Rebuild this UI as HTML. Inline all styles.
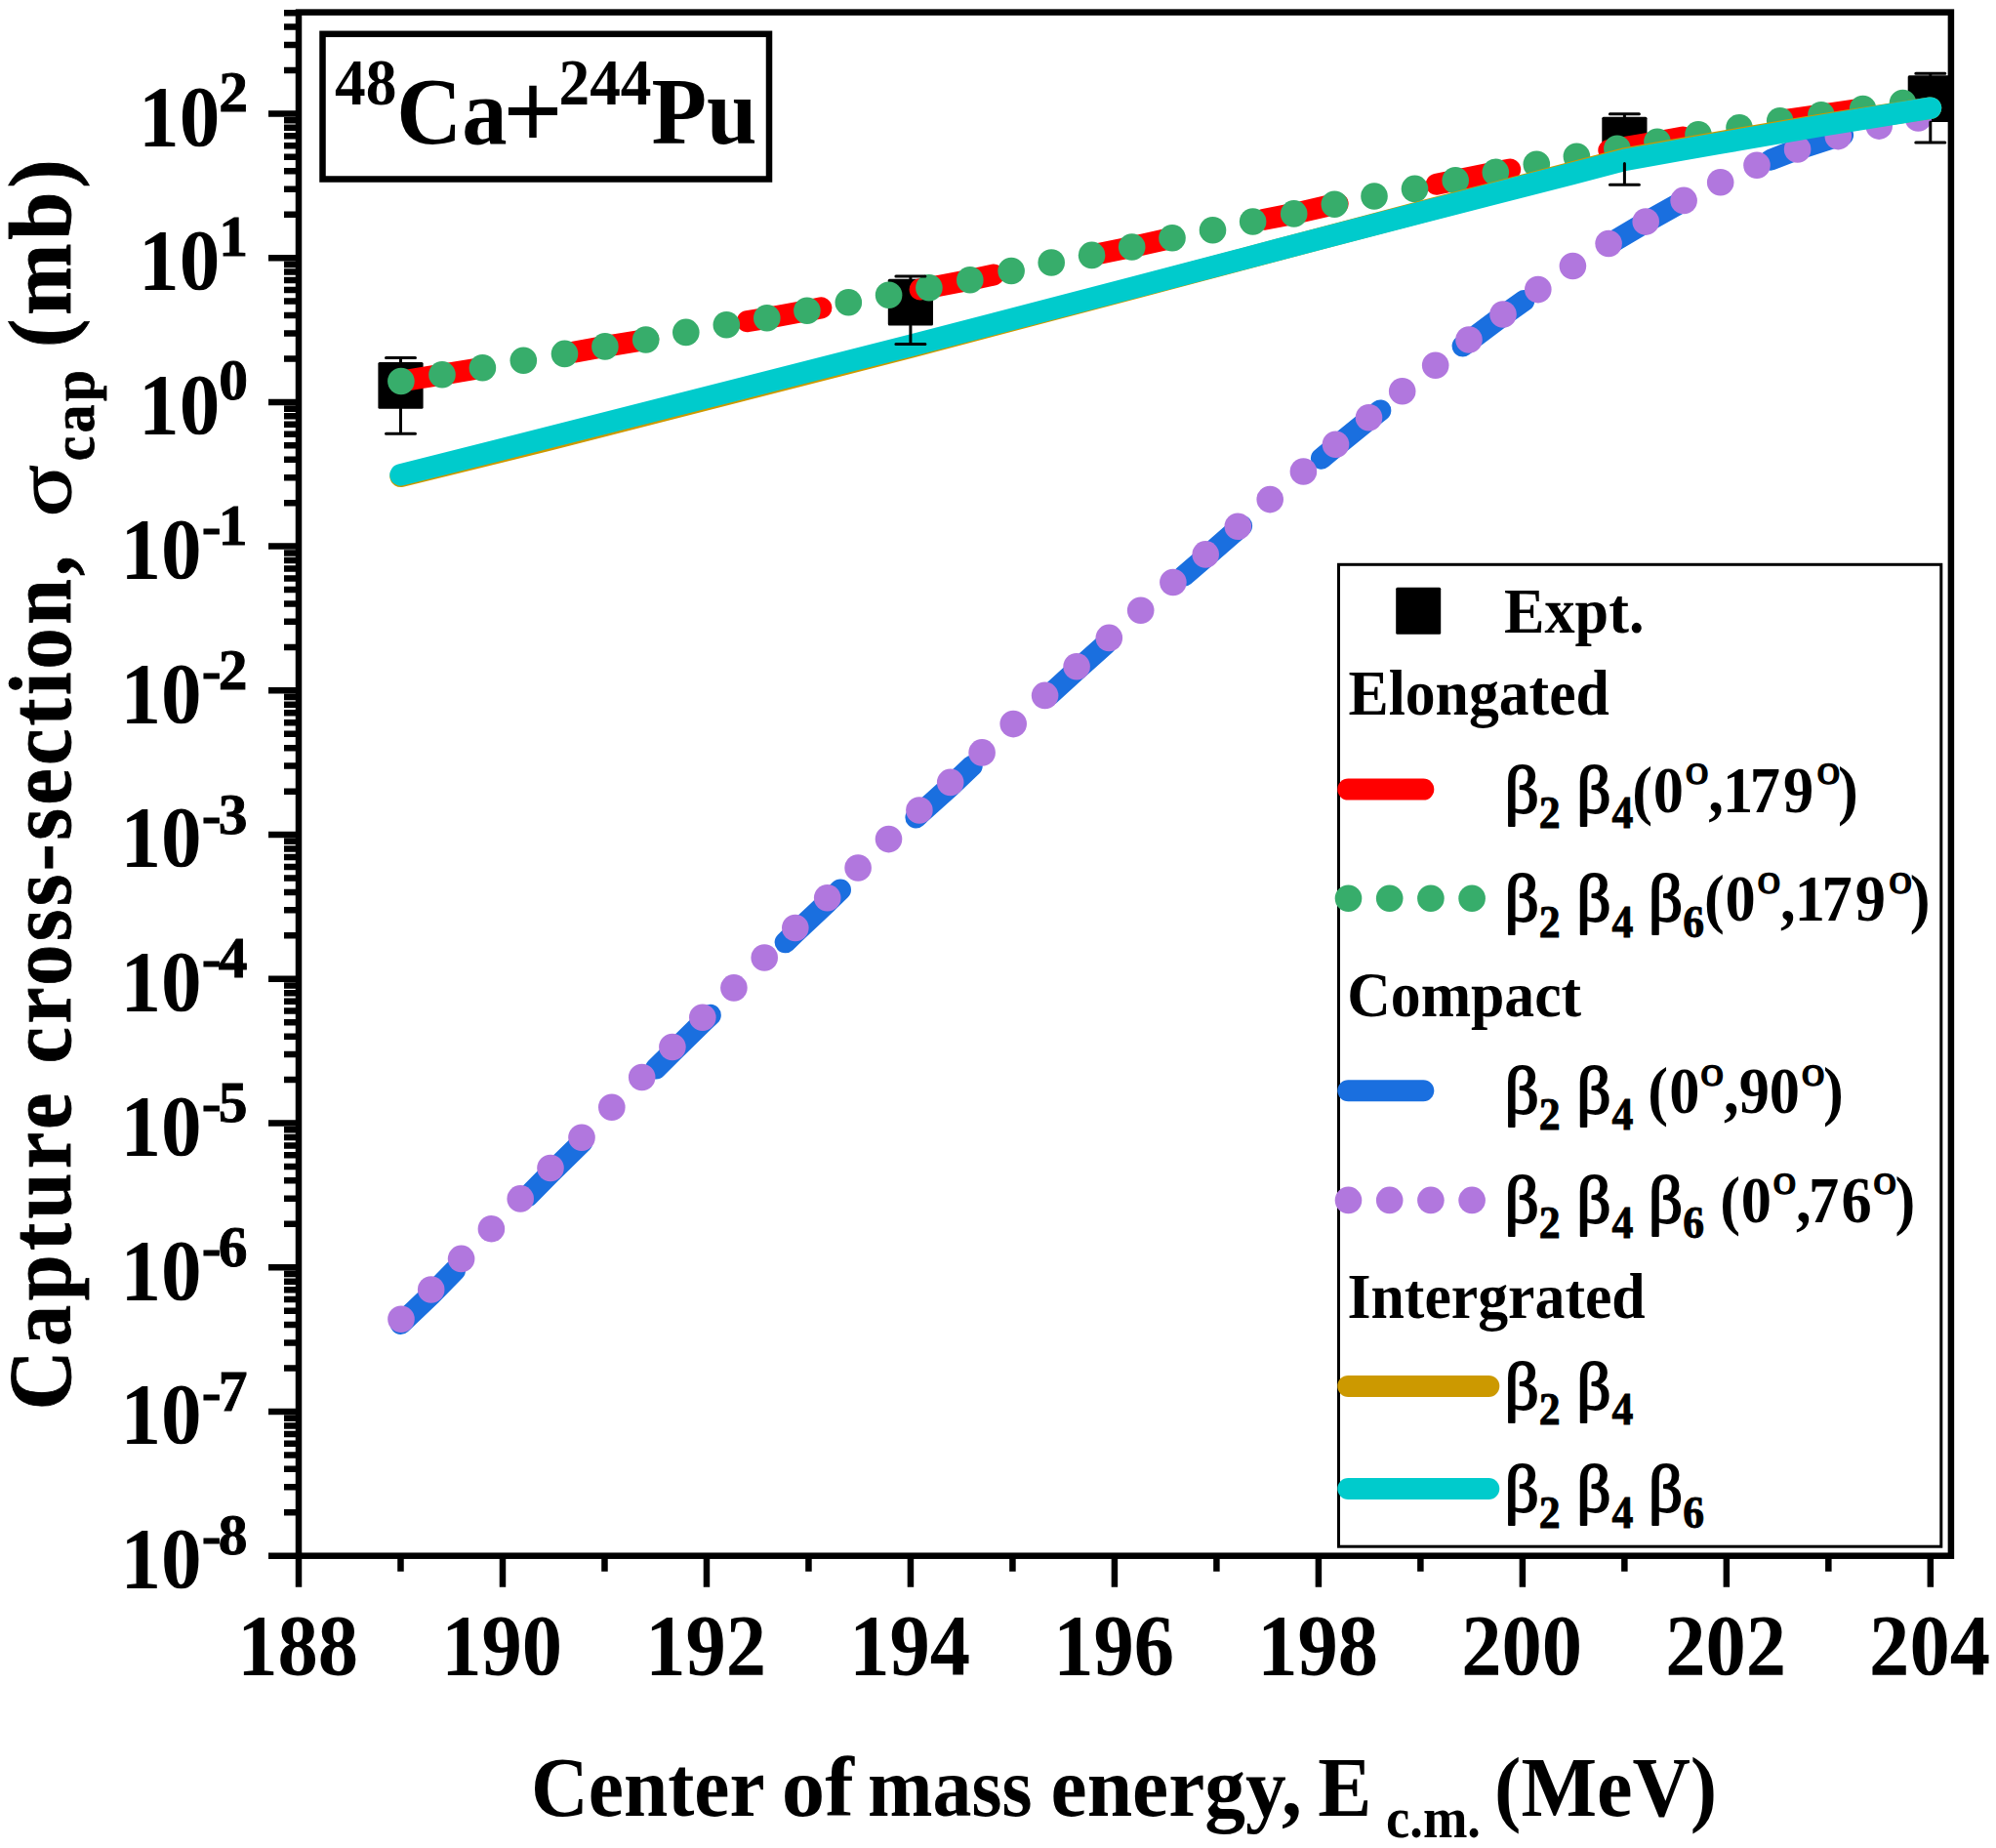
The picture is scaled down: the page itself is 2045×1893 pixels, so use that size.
<!DOCTYPE html>
<html lang="en"><head><meta charset="utf-8"><title>Capture cross-section 48Ca+244Pu</title>
<style>
html,body{margin:0;padding:0;background:#fff;}
body{width:2045px;height:1893px;overflow:hidden;}
svg{display:block;}
text{font-family:"Liberation Serif",serif;font-weight:bold;fill:#000;}
.n{font-weight:normal;}
</style></head><body>
<svg width="2045" height="1893" viewBox="0 0 2045 1893">
<rect width="2045" height="1893" fill="#fff"/>
<g id="squares" fill="#000">
<rect x="387.4" y="370.9" width="46.2" height="47.8" rx="1.5"/>
<rect x="909.8" y="285.8" width="46.2" height="47.8" rx="1.5"/>
<rect x="1641.3" y="119.7" width="46.2" height="47.8" rx="1.5"/>
<rect x="1954.7" y="77.2" width="46.2" height="47.8" rx="1.5"/>
</g>
<g id="curves" fill="none" stroke-linecap="round" stroke-linejoin="round">
<path d="M410.9,390.5 L453.0,383.7 L494.4,376.7 L536.3,369.3 L578.5,362.4 L619.9,354.9 L661.7,348.0 L702.8,340.4 L744.3,332.8 L785.8,325.8 L826.9,318.3 L869.3,309.7 L910.6,302.3 L951.9,294.7 L993.8,286.7 L1036.1,277.5 L1077.2,269.0 L1118.6,261.4 L1159.7,253.0 L1201.0,243.8 L1242.5,235.8 L1283.6,227.0 L1325.7,218.9 L1367.3,209.3 L1408.0,201.0 L1449.5,193.4 L1491.2,184.8 L1532.3,176.4 L1574.3,168.3 L1615.4,160.3 L1656.9,152.3 L1698.0,145.3 L1740.0,137.7 L1782.0,130.7 L1823.7,123.7 L1865.9,117.7 L1908.6,111.5 L1949.5,105.5 L1977.8,101.4" stroke="#FF0000" stroke-width="22" stroke-dasharray="77 103"/>
<g fill="#37AD6B" stroke="none"><circle cx="410.9" cy="390.5" r="13.8"/><circle cx="453" cy="383.7" r="13.8"/><circle cx="494.4" cy="376.7" r="13.8"/><circle cx="536.3" cy="369.3" r="13.8"/><circle cx="578.5" cy="362.4" r="13.8"/><circle cx="619.9" cy="354.9" r="13.8"/><circle cx="661.7" cy="348" r="13.8"/><circle cx="702.8" cy="340.4" r="13.8"/><circle cx="744.3" cy="332.8" r="13.8"/><circle cx="785.8" cy="325.8" r="13.8"/><circle cx="826.9" cy="318.3" r="13.8"/><circle cx="869.3" cy="309.7" r="13.8"/><circle cx="910.6" cy="302.3" r="13.8"/><circle cx="951.9" cy="294.7" r="13.8"/><circle cx="993.8" cy="286.7" r="13.8"/><circle cx="1036.1" cy="277.5" r="13.8"/><circle cx="1077.2" cy="269" r="13.8"/><circle cx="1118.6" cy="261.4" r="13.8"/><circle cx="1159.7" cy="253" r="13.8"/><circle cx="1201" cy="243.8" r="13.8"/><circle cx="1242.5" cy="235.8" r="13.8"/><circle cx="1283.6" cy="227" r="13.8"/><circle cx="1325.7" cy="218.9" r="13.8"/><circle cx="1367.3" cy="209.3" r="13.8"/><circle cx="1408" cy="201" r="13.8"/><circle cx="1449.5" cy="193.4" r="13.8"/><circle cx="1491.2" cy="184.8" r="13.8"/><circle cx="1532.3" cy="176.4" r="13.8"/><circle cx="1574.3" cy="168.3" r="13.8"/><circle cx="1615.4" cy="160.3" r="13.8"/><circle cx="1656.9" cy="152.3" r="13.8"/><circle cx="1698" cy="145.3" r="13.8"/><circle cx="1740" cy="137.7" r="13.8"/><circle cx="1782" cy="130.7" r="13.8"/><circle cx="1823.7" cy="123.7" r="13.8"/><circle cx="1865.9" cy="117.7" r="13.8"/><circle cx="1908.6" cy="111.5" r="13.8"/><circle cx="1949.5" cy="105.5" r="13.8"/></g>
<path d="M410.5,1356.0 L441.7,1326.2 L472.6,1294.6 L503.4,1263.9 L533.2,1233.1 L564.0,1201.7 L596.0,1170.4 L626.8,1139.4 L657.7,1108.7 L688.9,1077.7 L719.8,1047.4 L751.9,1017.1 L783.2,986.0 L814.8,955.4 L847.7,924.5 L879.1,893.6 L910.5,864.0 L941.9,834.2 L973.7,805.5 L1006.1,774.8 L1038.2,745.4 L1070.6,716.0 L1103.1,686.3 L1136.3,656.7 L1168.7,628.3 L1201.9,599.5 L1235.2,570.7 L1268.3,541.9 L1301.2,514.1 L1335.4,485.3 L1368.5,457.4 L1402.5,429.8 L1436.7,402.6 L1470.7,375.8 L1505.0,349.5 L1540.0,323.3 L1575.8,297.7 L1611.4,273.4 L1648.1,250.3 L1686.2,227.7 L1725.1,205.8 L1762.7,187.0 L1800.0,169.3 L1841.6,152.9 L1883.3,139.6 L1925.2,129.1 L1965.3,121.0 L1977.8,118.5" stroke="#1A6FDF" stroke-width="22" stroke-dasharray="78 107"/>
<g fill="#B177DE" stroke="none"><circle cx="411" cy="1351.3" r="13.8"/><circle cx="441.7" cy="1321" r="13.8"/><circle cx="472.6" cy="1289.4" r="13.8"/><circle cx="503.4" cy="1258.7" r="13.8"/><circle cx="533.2" cy="1227.9" r="13.8"/><circle cx="564" cy="1196.5" r="13.8"/><circle cx="596" cy="1165.2" r="13.8"/><circle cx="626.8" cy="1134.2" r="13.8"/><circle cx="657.7" cy="1103.5" r="13.8"/><circle cx="688.9" cy="1072.5" r="13.8"/><circle cx="719.8" cy="1042.2" r="13.8"/><circle cx="751.9" cy="1011.9" r="13.8"/><circle cx="783.2" cy="981" r="13.8"/><circle cx="814.8" cy="950.5" r="13.8"/><circle cx="847.7" cy="919.8" r="13.8"/><circle cx="879.1" cy="889" r="13.8"/><circle cx="910.5" cy="859.6" r="13.8"/><circle cx="941.9" cy="830" r="13.8"/><circle cx="973.7" cy="801.4" r="13.8"/><circle cx="1006.1" cy="770.9" r="13.8"/><circle cx="1038.2" cy="741.6" r="13.8"/><circle cx="1070.6" cy="712.4" r="13.8"/><circle cx="1103.1" cy="682.8" r="13.8"/><circle cx="1136.3" cy="653.4" r="13.8"/><circle cx="1168.7" cy="625.2" r="13.8"/><circle cx="1201.9" cy="596.5" r="13.8"/><circle cx="1235.2" cy="567.9" r="13.8"/><circle cx="1268.3" cy="539.3" r="13.8"/><circle cx="1301.2" cy="511.6" r="13.8"/><circle cx="1335.4" cy="483" r="13.8"/><circle cx="1368.5" cy="455.3" r="13.8"/><circle cx="1402.5" cy="427.8" r="13.8"/><circle cx="1436.7" cy="400.8" r="13.8"/><circle cx="1470.7" cy="374.2" r="13.8"/><circle cx="1505" cy="348" r="13.8"/><circle cx="1540" cy="322" r="13.8"/><circle cx="1575.8" cy="296.6" r="13.8"/><circle cx="1611.4" cy="272.5" r="13.8"/><circle cx="1648.1" cy="249.5" r="13.8"/><circle cx="1686.2" cy="227.1" r="13.8"/><circle cx="1725.1" cy="205.4" r="13.8"/><circle cx="1762.7" cy="186.8" r="13.8"/><circle cx="1800" cy="169.3" r="13.8"/><circle cx="1841.6" cy="152.9" r="13.8"/><circle cx="1883.3" cy="139.6" r="13.8"/><circle cx="1925.2" cy="129.1" r="13.8"/><circle cx="1965.3" cy="121" r="13.8"/></g>
<path d="M410.6,487.8 L560.0,451.1 L860.0,374.4 L932.9,355.7 L1160.0,295.6 L1310.3,255.6 L1460.0,216.0 L1610.3,176.8 L1664.4,162.7 L1720.0,152.8 L1760.0,145.8 L1870.3,127.0 L1978.0,110.7" stroke="#CC9900" stroke-width="22.5"/>
<path d="M410.6,486.4 L560.0,448.7 L860.0,372.4 L932.9,354.0 L1160.0,294.9 L1310.3,255.5 L1460.0,216.6 L1610.3,178.0 L1664.4,163.9 L1720.0,154.0 L1760.0,147.0 L1870.3,128.0 L1978.0,110.7" stroke="#00CBCC" stroke-width="22.5"/>
</g>
<g id="errbars" stroke="#000" stroke-width="3" stroke-linecap="round" fill="none">
<path d="M410.5,370.9V366.6M395.5,366.6H425.5M410.5,418.7V444.3M395.5,444.3H425.5"/>
<path d="M932.9,285.8V283.0M917.9,283.0H947.9M932.9,333.6V352.4M917.9,352.4H947.9"/>
<path d="M1664.4,119.7V116.8M1649.4,116.8H1679.4M1664.4,167.5V189.2M1649.4,189.2H1679.4"/>
<path d="M1977.8,77.2V75.2M1962.8,75.2H1992.8M1977.8,125.0V146.1M1962.8,146.1H1992.8"/>
</g>
<g id="axes" stroke="#000" stroke-width="6.5" fill="none" stroke-linecap="butt">
<rect x="306.0" y="12.6" width="1692.9" height="1581.1000000000001"/>
<path d="M275.0,1593.80H306.0M291.0,1549.33H306.0M291.0,1523.31H306.0M291.0,1504.85H306.0M291.0,1490.53H306.0M291.0,1478.84H306.0M291.0,1468.95H306.0M291.0,1460.38H306.0M291.0,1452.82H306.0M275.0,1446.06H306.0M291.0,1401.59H306.0M291.0,1375.57H306.0M291.0,1357.11H306.0M291.0,1342.79H306.0M291.0,1331.10H306.0M291.0,1321.21H306.0M291.0,1312.64H306.0M291.0,1305.08H306.0M275.0,1298.32H306.0M291.0,1253.85H306.0M291.0,1227.83H306.0M291.0,1209.37H306.0M291.0,1195.05H306.0M291.0,1183.36H306.0M291.0,1173.47H306.0M291.0,1164.90H306.0M291.0,1157.34H306.0M275.0,1150.58H306.0M291.0,1106.11H306.0M291.0,1080.09H306.0M291.0,1061.63H306.0M291.0,1047.31H306.0M291.0,1035.62H306.0M291.0,1025.73H306.0M291.0,1017.16H306.0M291.0,1009.60H306.0M275.0,1002.84H306.0M291.0,958.37H306.0M291.0,932.35H306.0M291.0,913.89H306.0M291.0,899.57H306.0M291.0,887.88H306.0M291.0,877.99H306.0M291.0,869.42H306.0M291.0,861.86H306.0M275.0,855.10H306.0M291.0,810.63H306.0M291.0,784.61H306.0M291.0,766.15H306.0M291.0,751.83H306.0M291.0,740.14H306.0M291.0,730.25H306.0M291.0,721.68H306.0M291.0,714.12H306.0M275.0,707.36H306.0M291.0,662.89H306.0M291.0,636.87H306.0M291.0,618.41H306.0M291.0,604.09H306.0M291.0,592.40H306.0M291.0,582.51H306.0M291.0,573.94H306.0M291.0,566.38H306.0M275.0,559.62H306.0M291.0,515.15H306.0M291.0,489.13H306.0M291.0,470.67H306.0M291.0,456.35H306.0M291.0,444.66H306.0M291.0,434.77H306.0M291.0,426.20H306.0M291.0,418.64H306.0M275.0,411.88H306.0M291.0,367.41H306.0M291.0,341.39H306.0M291.0,322.93H306.0M291.0,308.61H306.0M291.0,296.92H306.0M291.0,287.03H306.0M291.0,278.46H306.0M291.0,270.90H306.0M275.0,264.14H306.0M291.0,219.67H306.0M291.0,193.65H306.0M291.0,175.19H306.0M291.0,160.87H306.0M291.0,149.18H306.0M291.0,139.29H306.0M291.0,130.72H306.0M291.0,123.16H306.0M275.0,116.40H306.0M291.0,71.93H306.0M291.0,45.91H306.0M291.0,27.45H306.0M291.0,13.13H306.0M306.00,1593.7V1625.7M410.49,1593.7V1609.7M514.98,1593.7V1625.7M619.47,1593.7V1609.7M723.96,1593.7V1625.7M828.45,1593.7V1609.7M932.94,1593.7V1625.7M1037.43,1593.7V1609.7M1141.92,1593.7V1625.7M1246.41,1593.7V1609.7M1350.90,1593.7V1625.7M1455.39,1593.7V1609.7M1559.88,1593.7V1625.7M1664.37,1593.7V1609.7M1768.86,1593.7V1625.7M1873.35,1593.7V1609.7M1977.84,1593.7V1625.7"/>
</g>
<g id="ylabels" font-size="88.5">
<text transform="translate(123.4,1626.1) scale(0.94,1)">10</text><text transform="translate(253.4,1592.3)" font-size="59.5" text-anchor="end" stroke="#000" stroke-width="0.9">-<tspan dx="-3">8</tspan></text>
<text transform="translate(123.4,1478.4) scale(0.94,1)">10</text><text transform="translate(253.4,1444.6)" font-size="59.5" text-anchor="end" stroke="#000" stroke-width="0.9">-<tspan dx="-3">7</tspan></text>
<text transform="translate(123.4,1330.6) scale(0.94,1)">10</text><text transform="translate(253.4,1296.8)" font-size="59.5" text-anchor="end" stroke="#000" stroke-width="0.9">-<tspan dx="-3">6</tspan></text>
<text transform="translate(123.4,1182.9) scale(0.94,1)">10</text><text transform="translate(253.4,1149.1)" font-size="59.5" text-anchor="end" stroke="#000" stroke-width="0.9">-<tspan dx="-3">5</tspan></text>
<text transform="translate(123.4,1035.1) scale(0.94,1)">10</text><text transform="translate(253.4,1001.3)" font-size="59.5" text-anchor="end" stroke="#000" stroke-width="0.9">-<tspan dx="-3">4</tspan></text>
<text transform="translate(123.4,887.4) scale(0.94,1)">10</text><text transform="translate(253.4,853.6)" font-size="59.5" text-anchor="end" stroke="#000" stroke-width="0.9">-<tspan dx="-3">3</tspan></text>
<text transform="translate(123.4,739.7) scale(0.94,1)">10</text><text transform="translate(253.4,705.9)" font-size="59.5" text-anchor="end" stroke="#000" stroke-width="0.9">-<tspan dx="-3">2</tspan></text>
<text transform="translate(123.4,591.9) scale(0.94,1)">10</text><text transform="translate(253.4,558.1)" font-size="59.5" text-anchor="end" stroke="#000" stroke-width="0.9">-<tspan dx="-3">1</tspan></text>
<text transform="translate(142.1,444.2) scale(0.94,1)">10</text><text transform="translate(254.0,409.3)" font-size="59.5" text-anchor="end" stroke="#000" stroke-width="0.9">0</text>
<text transform="translate(142.1,296.4) scale(0.94,1)">10</text><text transform="translate(254.0,261.5)" font-size="59.5" text-anchor="end" stroke="#000" stroke-width="0.9">1</text>
<text transform="translate(142.1,148.7) scale(0.94,1)">10</text><text transform="translate(254.0,113.8)" font-size="59.5" text-anchor="end" stroke="#000" stroke-width="0.9">2</text>
</g>
<g id="xlabels" font-size="88.5" text-anchor="middle">
<text id="xl188" transform="translate(305.21,1715.4) scale(0.9331,1)">188</text>
<text id="xl190" transform="translate(514.19,1715.4) scale(0.9331,1)">190</text>
<text id="xl192" transform="translate(723.17,1715.4) scale(0.9331,1)">192</text>
<text id="xl194" transform="translate(932.15,1715.4) scale(0.9331,1)">194</text>
<text id="xl196" transform="translate(1141.13,1715.4) scale(0.9331,1)">196</text>
<text id="xl198" transform="translate(1350.11,1715.4) scale(0.9331,1)">198</text>
<text id="xl200" transform="translate(1559.09,1715.4) scale(0.9331,1)">200</text>
<text id="xl202" transform="translate(1768.07,1715.4) scale(0.9331,1)">202</text>
<text id="xl204" transform="translate(1977.05,1715.4) scale(0.9331,1)">204</text>
</g>
<g id="xtitle">
<text id="xt1" transform="translate(544.06,1860.30) scale(0.9306,1)" font-size="87.5">Center</text>
<text id="xt2" transform="translate(800.83,1860.30) scale(1.0165,1)" font-size="87.5">of</text>
<text id="xt3" transform="translate(889.12,1860.30) scale(0.9118,1)" font-size="87.5">mass</text>
<text id="xt4" transform="translate(1076.59,1860.30) scale(0.9545,1)" font-size="87.5">energy,</text>
<text id="xt5" transform="translate(1350.35,1860.30) scale(0.9446,1)" font-size="87.5">E</text>
<text id="xt6" transform="translate(1420.00,1882.00) scale(0.9255,1)" font-size="59">c.m.</text>
<text id="xt7" transform="translate(1531.03,1860.30) scale(0.9395,1)" font-size="87.5">(MeV)</text>
</g>
<g id="ytitle">
<text id="yt1" transform="translate(71.60,1444.20) rotate(-90) scale(0.9250,1)" font-size="91" letter-spacing="4.853" stroke="#000" stroke-width="0.8">Capture</text>
<text id="yt2" transform="translate(71.60,1089.50) rotate(-90) scale(0.9250,1)" font-size="91" letter-spacing="3.577" stroke="#000" stroke-width="0.8">cross-section,</text>
<text id="yt3" transform="translate(71.60,529.20) rotate(-90) scale(1.2200,1)" font-size="81" letter-spacing="0.000" class="n" stroke="#000" stroke-width="1.2">σ</text>
<text id="yt4" transform="translate(95.50,472.20) rotate(-90) scale(0.9250,1)" font-size="62" letter-spacing="3.856" stroke="#000" stroke-width="0.8">cap</text>
<text id="yt5" transform="translate(71.60,356.00) rotate(-90) scale(0.9700,1)" font-size="91" letter-spacing="3.831" stroke="#000" stroke-width="0.8">(mb)</text>
</g>
<rect x="330.5" y="34.8" width="457.5" height="148.7" fill="#fff" stroke="#000" stroke-width="6.5"/>
<text id="reaction" transform="translate(342.98,147.10) scale(0.9457,1)" font-size="98"><tspan font-size="67" dy="-39.7">48</tspan><tspan dy="39.7">Ca</tspan><tspan font-size="114" dx="-4.5" dy="5">+</tspan><tspan font-size="67" dx="-4.5" dy="-44.7">244</tspan><tspan dy="39.7">Pu</tspan></text>
<rect x="1371.5" y="578.3" width="617.3" height="1005.9000000000001" fill="#fff" stroke="#000" stroke-width="3"/>
<rect x="1430.2" y="601.7" width="46" height="48.1" rx="1.5" fill="#000"/>
<text id="lg_expt" transform="translate(1541.01,648.10) scale(0.9354,1)" font-size="66.5">Expt.</text>
<text id="lg_elong" transform="translate(1381.50,732.30) scale(0.9278,1)" font-size="66.5">Elongated</text>
<text id="lg_comp" transform="translate(1380.30,1040.90) scale(0.9276,1)" font-size="66.5">Compact</text>
<text id="lg_integ" transform="translate(1380.47,1350.30) scale(0.9289,1)" font-size="66.5">Intergrated</text>
<g id="lg_r3" font-size="67.5">
<text transform="translate(1541.48,831.50) scale(1.03,1)" class="n" stroke="#000" stroke-width="1.8" stroke-linejoin="round">β</text>
<text transform="translate(1576.69,848.10) scale(0.95,1)" font-size="46" stroke="#000" stroke-width="0.9">2</text>
<text transform="translate(1615.18,831.50) scale(1.03,1)" class="n" stroke="#000" stroke-width="1.8" stroke-linejoin="round">β</text>
<text transform="translate(1651.52,848.10) scale(0.95,1)" font-size="46" stroke="#000" stroke-width="0.9">4</text>
<text transform="translate(1672.25,831.50) scale(0.925,1)">(</text>
<text transform="translate(1693.73,831.50) scale(0.925,1)">0</text>
<text transform="translate(1726.57,802.90) scale(1.09,1)" font-size="44.5" class="n" stroke="#000" stroke-width="1.3">o</text>
<text transform="translate(1750.19,831.50) scale(0.925,1)">,</text>
<text transform="translate(1765.11,831.50) scale(0.925,1)">1</text>
<text transform="translate(1792.84,831.50) scale(0.925,1)">7</text>
<text transform="translate(1827.01,831.50) scale(0.925,1)">9</text>
<text transform="translate(1861.37,802.90) scale(1.09,1)" font-size="44.5" class="n" stroke="#000" stroke-width="1.3">o</text>
<text transform="translate(1883.00,831.50) scale(0.925,1)">)</text>
</g>
<g id="lg_r4" font-size="67.5">
<text transform="translate(1541.48,943.40) scale(1.03,1)" class="n" stroke="#000" stroke-width="1.8" stroke-linejoin="round">β</text>
<text transform="translate(1576.69,960.00) scale(0.95,1)" font-size="46" stroke="#000" stroke-width="0.9">2</text>
<text transform="translate(1615.18,943.40) scale(1.03,1)" class="n" stroke="#000" stroke-width="1.8" stroke-linejoin="round">β</text>
<text transform="translate(1651.52,960.00) scale(0.95,1)" font-size="46" stroke="#000" stroke-width="0.9">4</text>
<text transform="translate(1688.78,943.40) scale(1.03,1)" class="n" stroke="#000" stroke-width="1.8" stroke-linejoin="round">β</text>
<text transform="translate(1724.34,960.00) scale(0.95,1)" font-size="46" stroke="#000" stroke-width="0.9">6</text>
<text transform="translate(1745.95,943.40) scale(0.925,1)">(</text>
<text transform="translate(1767.43,943.40) scale(0.925,1)">0</text>
<text transform="translate(1800.27,914.80) scale(1.09,1)" font-size="44.5" class="n" stroke="#000" stroke-width="1.3">o</text>
<text transform="translate(1823.89,943.40) scale(0.925,1)">,</text>
<text transform="translate(1838.81,943.40) scale(0.925,1)">1</text>
<text transform="translate(1866.54,943.40) scale(0.925,1)">7</text>
<text transform="translate(1900.71,943.40) scale(0.925,1)">9</text>
<text transform="translate(1935.07,914.80) scale(1.09,1)" font-size="44.5" class="n" stroke="#000" stroke-width="1.3">o</text>
<text transform="translate(1956.70,943.40) scale(0.925,1)">)</text>
</g>
<g id="lg_r6" font-size="67.5">
<text transform="translate(1541.48,1140.10) scale(1.03,1)" class="n" stroke="#000" stroke-width="1.8" stroke-linejoin="round">β</text>
<text transform="translate(1576.69,1156.70) scale(0.95,1)" font-size="46" stroke="#000" stroke-width="0.9">2</text>
<text transform="translate(1615.18,1140.10) scale(1.03,1)" class="n" stroke="#000" stroke-width="1.8" stroke-linejoin="round">β</text>
<text transform="translate(1651.52,1156.70) scale(0.95,1)" font-size="46" stroke="#000" stroke-width="0.9">4</text>
<text transform="translate(1688.25,1140.10) scale(0.925,1)">(</text>
<text transform="translate(1710.13,1140.10) scale(0.925,1)">0</text>
<text transform="translate(1742.07,1111.50) scale(1.09,1)" font-size="44.5" class="n" stroke="#000" stroke-width="1.3">o</text>
<text transform="translate(1766.09,1140.10) scale(0.925,1)">,</text>
<text transform="translate(1781.81,1140.10) scale(0.925,1)">9</text>
<text transform="translate(1812.63,1140.10) scale(0.925,1)">0</text>
<text transform="translate(1845.47,1111.50) scale(1.09,1)" font-size="44.5" class="n" stroke="#000" stroke-width="1.3">o</text>
<text transform="translate(1867.90,1140.10) scale(0.925,1)">)</text>
</g>
<g id="lg_r7" font-size="67.5">
<text transform="translate(1541.48,1251.80) scale(1.03,1)" class="n" stroke="#000" stroke-width="1.8" stroke-linejoin="round">β</text>
<text transform="translate(1576.69,1268.40) scale(0.95,1)" font-size="46" stroke="#000" stroke-width="0.9">2</text>
<text transform="translate(1615.18,1251.80) scale(1.03,1)" class="n" stroke="#000" stroke-width="1.8" stroke-linejoin="round">β</text>
<text transform="translate(1651.52,1268.40) scale(0.95,1)" font-size="46" stroke="#000" stroke-width="0.9">4</text>
<text transform="translate(1688.78,1251.80) scale(1.03,1)" class="n" stroke="#000" stroke-width="1.8" stroke-linejoin="round">β</text>
<text transform="translate(1724.34,1268.40) scale(0.95,1)" font-size="46" stroke="#000" stroke-width="0.9">6</text>
<text transform="translate(1762.15,1251.80) scale(0.925,1)">(</text>
<text transform="translate(1783.63,1251.80) scale(0.925,1)">0</text>
<text transform="translate(1816.37,1223.20) scale(1.09,1)" font-size="44.5" class="n" stroke="#000" stroke-width="1.3">o</text>
<text transform="translate(1839.99,1251.80) scale(0.925,1)">,</text>
<text transform="translate(1853.04,1251.80) scale(0.925,1)">7</text>
<text transform="translate(1886.48,1251.80) scale(0.925,1)">6</text>
<text transform="translate(1919.07,1223.20) scale(1.09,1)" font-size="44.5" class="n" stroke="#000" stroke-width="1.3">o</text>
<text transform="translate(1941.50,1251.80) scale(0.925,1)">)</text>
</g>
<g id="lg_r9" font-size="67.5">
<text transform="translate(1541.48,1442.70) scale(1.03,1)" class="n" stroke="#000" stroke-width="1.8" stroke-linejoin="round">β</text>
<text transform="translate(1576.69,1459.30) scale(0.95,1)" font-size="46" stroke="#000" stroke-width="0.9">2</text>
<text transform="translate(1615.18,1442.70) scale(1.03,1)" class="n" stroke="#000" stroke-width="1.8" stroke-linejoin="round">β</text>
<text transform="translate(1651.52,1459.30) scale(0.95,1)" font-size="46" stroke="#000" stroke-width="0.9">4</text>
</g>
<g id="lg_r10" font-size="67.5">
<text transform="translate(1541.48,1548.20) scale(1.03,1)" class="n" stroke="#000" stroke-width="1.8" stroke-linejoin="round">β</text>
<text transform="translate(1576.69,1564.80) scale(0.95,1)" font-size="46" stroke="#000" stroke-width="0.9">2</text>
<text transform="translate(1615.18,1548.20) scale(1.03,1)" class="n" stroke="#000" stroke-width="1.8" stroke-linejoin="round">β</text>
<text transform="translate(1651.52,1564.80) scale(0.95,1)" font-size="46" stroke="#000" stroke-width="0.9">4</text>
<text transform="translate(1688.78,1548.20) scale(1.03,1)" class="n" stroke="#000" stroke-width="1.8" stroke-linejoin="round">β</text>
<text transform="translate(1724.34,1564.80) scale(0.95,1)" font-size="46" stroke="#000" stroke-width="0.9">6</text>
</g>
<g fill="none" stroke-linecap="round" stroke-width="22">
<path d="M1381.3,808.6H1458.3" stroke="#FF0000"/>
<path d="M1381.3,1117.2H1458.3" stroke="#1A6FDF"/>
<path d="M1381.3,1419.9H1525.3" stroke="#CC9900"/>
<path d="M1381.3,1525H1525.3" stroke="#00CBCC"/>
</g>
<g fill="#37AD6B"><circle cx="1381.5" cy="920.3" r="13.8"/><circle cx="1423.7" cy="920.3" r="13.8"/><circle cx="1465.9" cy="920.3" r="13.8"/><circle cx="1508.1" cy="920.3" r="13.8"/></g>
<g fill="#B177DE"><circle cx="1381.5" cy="1229.4" r="13.8"/><circle cx="1423.7" cy="1229.4" r="13.8"/><circle cx="1465.9" cy="1229.4" r="13.8"/><circle cx="1508.1" cy="1229.4" r="13.8"/></g>
</svg></body></html>
